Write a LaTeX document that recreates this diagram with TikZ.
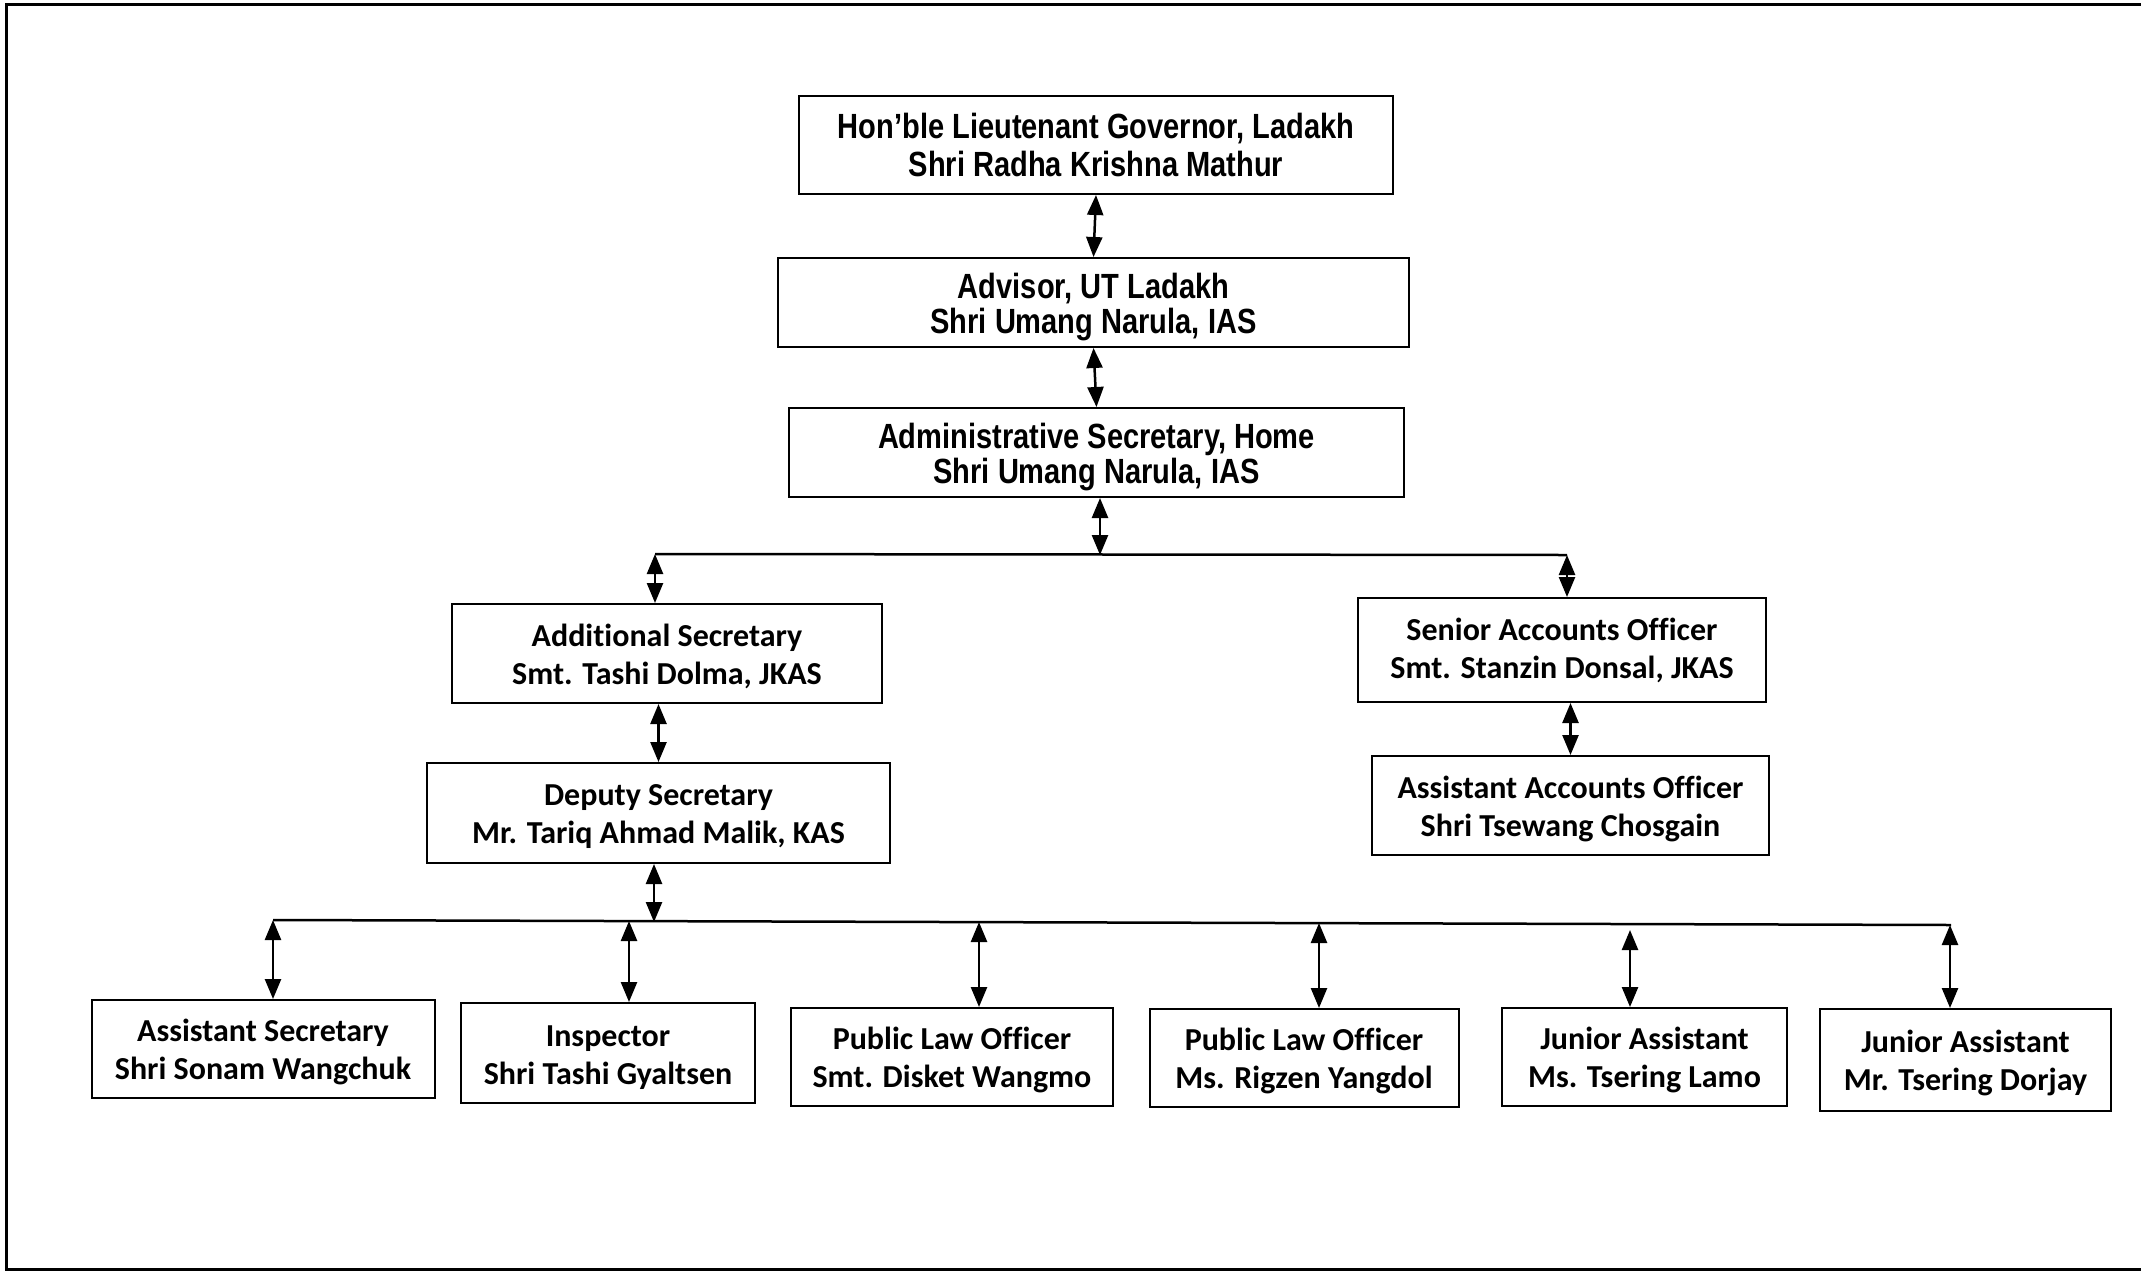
\documentclass[tikz,border=0pt]{standalone}
\usepackage{fontspec}
\usetikzlibrary{arrows.meta}
\newfontfamily\arialn[FakeStretch=0.83]{Liberation Sans}
\newfontfamily\calib[Ligatures=NoCommon]{Carlito}
\newcommand\hiA{\rule{0pt}{34pt}}
\newcommand\hiB{\rule{0pt}{29pt}}
\begin{document}
\begin{tikzpicture}[x=1pt,y=-1pt,
  box/.style={draw, line width=2pt, inner sep=0pt, align=center},
  topbox/.style={box, font=\arialn\bfseries\fontsize{35}{35}\selectfont},
  lowbox/.style={box, font=\calib\bfseries\fontsize{32}{38}\selectfont},
  arr/.style={line width=2.5pt, {Triangle[length=20pt,width=16pt]}-{Triangle[length=20pt,width=16pt]}},
  bus/.style={line width=2.5pt}]
\useasboundingbox (0,0) rectangle (2141,1272);
\draw[line width=3pt] (2141,4) -- (6,4) -- (6,1269) -- (2141,1269);

% top chain
\node[topbox, font=\arialn\bfseries\fontsize{35}{38}\selectfont, minimum width=594pt, minimum height=98pt] (gov) at (1096,145) {Hon’ble Lieutenant Governor, Ladakh\\Shri Radha Krishna Mathur};
\node[topbox, minimum width=631pt, minimum height=89pt] (adv) at (1093.5,302.5) {\hiA Advisor, UT Ladakh\\Shri Umang Narula, IAS};
\node[topbox, minimum width=615pt, minimum height=89pt] (adm) at (1096.5,452.5) {\hiA Administrative Secretary, Home\\Shri Umang Narula, IAS};

% second level
\node[lowbox, minimum width=430pt, minimum height=99pt] (addl) at (667,653.5) {\hiB Additional Secretary\\Smt. Tashi Dolma, JKAS};
\node[lowbox, minimum width=463pt, minimum height=100pt] (dep) at (658.5,813) {\hiB Deputy Secretary\\Mr. Tariq Ahmad Malik, KAS};
\node[lowbox, minimum width=408pt, minimum height=104pt] (sao) at (1562,650) {Senior Accounts Officer\\Smt. Stanzin Donsal, JKAS};
\node[lowbox, minimum width=397pt, minimum height=99pt] (aao) at (1570.5,805.5) {\hiB Assistant Accounts Officer\\Shri Tsewang Chosgain};

% bottom row
\node[lowbox, minimum width=343pt, minimum height=98pt] (asst) at (263,1049) {\hiB Assistant Secretary\\Shri Sonam Wangchuk};
\node[lowbox, minimum width=294pt, minimum height=100pt] (insp) at (608,1053) {\hiB Inspector\\Shri Tashi Gyaltsen};
\node[lowbox, minimum width=322pt, minimum height=98pt] (plo1) at (952,1057) {\hiB Public Law Officer\\Smt. Disket Wangmo};
\node[lowbox, minimum width=309pt, minimum height=98pt] (plo2) at (1304,1058) {\hiB Public Law Officer\\Ms. Rigzen Yangdol};
\node[lowbox, minimum width=285pt, minimum height=98pt] (ja1) at (1644.5,1057) {\hiB Junior Assistant\\Ms. Tsering Lamo};
\node[lowbox, minimum width=291pt, minimum height=102pt] (ja2) at (1965.5,1060) {\hiB Junior Assistant\\Mr. Tsering Dorjay};

% connectors top chain
\draw[arr] (gov.south) -- (adv.north);
\draw[arr] (adv.south) -- (adm.north);

% first bus
\coordinate (j1) at (1100,555);
\coordinate (b1l) at (655,554);
\coordinate (b1r) at (1567,555);
\draw[bus] (b1l) -- (b1r);
\draw[arr] (j1 |- adm.south) -- (j1);
\draw[arr] (b1l) -- (b1l |- addl.north);
\draw[arr] (b1r) -- (b1r |- sao.north);
\draw[arr] (addl.south -| dep.north) -- (dep.north);
\draw[arr] (sao.south -| aao.north) -- (aao.north);

% second bus
\coordinate (j2) at (654,922);
\coordinate (b2l) at (273,920);
\coordinate (b2r) at (1951,925);
\draw[bus] (b2l) -- (b2r);
\draw[arr] (j2 |- dep.south) -- (j2);
\coordinate (t1) at (273,920);
\coordinate (t2) at (629,921);
\coordinate (t3) at (979,922);
\coordinate (t4) at (1319,923);
\coordinate (t5) at (1630,930);
\coordinate (t6) at (1950,925);
\draw[arr] (t1) -- (t1 |- asst.north);
\draw[arr] (t2) -- (t2 |- insp.north);
\draw[arr] (t3) -- (t3 |- plo1.north);
\draw[arr] (t4) -- (t4 |- plo2.north);
\draw[arr] (t5) -- (t5 |- ja1.north);
\draw[arr] (t6) -- (t6 |- ja2.north);
\end{tikzpicture}
\end{document}
